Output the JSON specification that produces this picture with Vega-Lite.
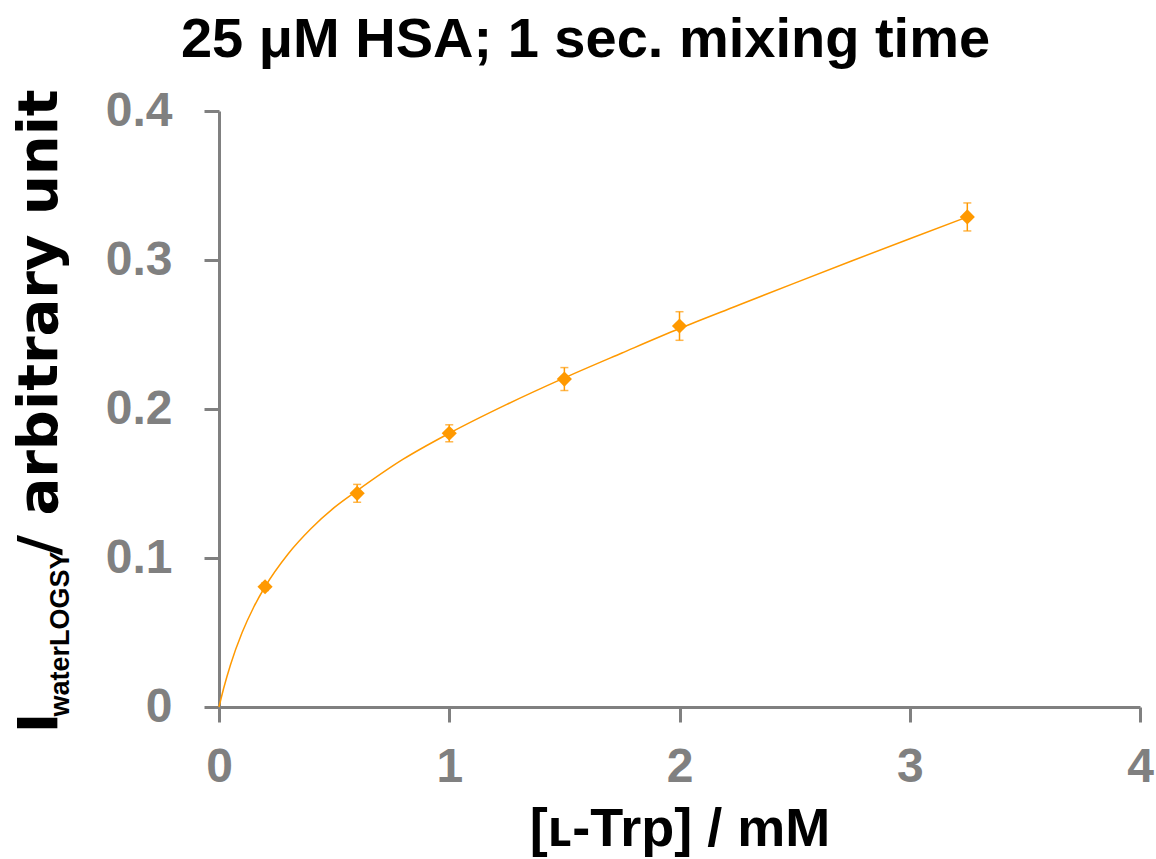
{
  "$schema": "https://vega.github.io/schema/vega-lite/v6.json",
  "width": 921,
  "height": 596,
  "autosize": "none",
  "padding": {"left": 219, "top": 111, "right": 16, "bottom": 152},
  "background": "white",
  "title": {
    "text": "25 μM HSA; 1 sec. mixing time",
    "font": "Liberation Sans",
    "fontSize": 56,
    "fontWeight": "bold",
    "color": "#000000",
    "anchor": "middle",
    "frame": "group",
    "dx": -94,
    "dy": 26,
    "baseline": "alphabetic",
    "offset": 0
  },
  "config": {"view": {"stroke": null}, "axis": {"grid": false}},
  "resolve": {"axis": {"y": "independent"}},
  "datasets": {
    "fit": [
      {"conc": 0, "signal": 0},
      {"conc": 0.01, "signal": 0.0064},
      {"conc": 0.02, "signal": 0.0124},
      {"conc": 0.05, "signal": 0.0284},
      {"conc": 0.1, "signal": 0.0498},
      {"conc": 0.15, "signal": 0.0668},
      {"conc": 0.2, "signal": 0.0807},
      {"conc": 0.3, "signal": 0.1027},
      {"conc": 0.4, "signal": 0.1198},
      {"conc": 0.5, "signal": 0.1338},
      {"conc": 0.6, "signal": 0.1452},
      {"conc": 0.8, "signal": 0.1663},
      {"conc": 1.0, "signal": 0.1837},
      {"conc": 1.25, "signal": 0.2031},
      {"conc": 1.5, "signal": 0.2209},
      {"conc": 1.75, "signal": 0.2376},
      {"conc": 2.0, "signal": 0.2540},
      {"conc": 2.25, "signal": 0.2693},
      {"conc": 2.5, "signal": 0.2845},
      {"conc": 2.75, "signal": 0.2995},
      {"conc": 3.0, "signal": 0.3143},
      {"conc": 3.25, "signal": 0.3289}
    ],
    "measured": [
      {"conc": 0.2, "signal": 0.0807, "err": 0.0025},
      {"conc": 0.6, "signal": 0.1434, "err": 0.006},
      {"conc": 1.0, "signal": 0.1837, "err": 0.0057},
      {"conc": 1.5, "signal": 0.2201, "err": 0.0077},
      {"conc": 2.0, "signal": 0.2557, "err": 0.0096},
      {"conc": 3.25, "signal": 0.3289, "err": 0.0094}
    ]
  },
  "layer": [
    {
      "data": {"name": "fit"},
      "mark": {"type": "line", "color": "#FF9900", "strokeWidth": 1.5, "interpolate": "monotone"},
      "encoding": {
        "x": {
          "field": "conc",
          "type": "quantitative",
          "scale": {"domain": [0, 4], "nice": false},
          "axis": {
            "title": "[ʟ-Trp] / mM",
            "values": [0, 1, 2, 3, 4],
            "format": "d",
            "domainColor": "#808080",
            "domainWidth": 3,
            "tickColor": "#808080",
            "tickWidth": 3,
            "tickSize": 15,
            "labelFont": "Liberation Sans",
            "labelFontSize": 48,
            "labelFontWeight": "bold",
            "labelColor": "#808080",
            "labelPadding": 21,
            "labelBaseline": "top",
            "labelFlush": false,
            "labelOverlap": false,
            "titleFont": "Liberation Sans",
            "titleFontSize": 54,
            "titleFontWeight": "bold",
            "titleColor": "#000000",
            "titleBaseline": "alphabetic",
            "titleY": 138
          }
        },
        "y": {
          "field": "signal",
          "type": "quantitative",
          "scale": {"domain": [0, 0.4], "nice": false},
          "axis": {
            "orient": "left",
            "title": "/ arbitrary unit",
            "values": [0, 0.1, 0.2, 0.3, 0.4],
            "format": "~g",
            "domainColor": "#808080",
            "domainWidth": 3,
            "tickColor": "#808080",
            "tickWidth": 3,
            "tickSize": 15,
            "labelFont": "Liberation Sans",
            "labelFontSize": 48,
            "labelFontWeight": "bold",
            "labelColor": "#808080",
            "labelPadding": 32,
            "labelFlush": false,
            "labelOverlap": false,
            "titleFont": "DejaVu Sans",
            "titleFontSize": 56,
            "titleFontWeight": "bold",
            "titleColor": "#000000",
            "titleAngle": 270,
            "titleAlign": "left",
            "titleBaseline": "alphabetic",
            "titleX": -163,
            "titleY": 444
          }
        }
      }
    },
    {
      "data": {"name": "measured"},
      "mark": {"type": "errorbar", "ticks": true, "size": 8, "thickness": 1.5, "color": "#FF9900"},
      "encoding": {
        "x": {"field": "conc", "type": "quantitative"},
        "y": {
          "field": "signal",
          "type": "quantitative",
          "axis": {
            "orient": "left",
            "title": "I",
            "domain": false,
            "ticks": false,
            "labels": false,
            "titleFont": "DejaVu Sans",
            "titleFontSize": 56,
            "titleFontWeight": "bold",
            "titleColor": "#000000",
            "titleAngle": 270,
            "titleAlign": "left",
            "titleBaseline": "alphabetic",
            "titleX": -163,
            "titleY": 622
          }
        },
        "yError": {"field": "err"}
      }
    },
    {
      "data": {"name": "measured"},
      "mark": {"type": "point", "shape": "diamond", "filled": true, "size": 230, "color": "#FF9900", "opacity": 1},
      "encoding": {
        "x": {"field": "conc", "type": "quantitative"},
        "y": {
          "field": "signal",
          "type": "quantitative",
          "axis": {
            "orient": "left",
            "title": "waterLOGSY",
            "domain": false,
            "ticks": false,
            "labels": false,
            "titleFont": "Liberation Sans Narrow, Liberation Sans",
            "titleFontSize": 27,
            "titleFontWeight": "bold",
            "titleColor": "#000000",
            "titleAngle": 270,
            "titleAlign": "left",
            "titleBaseline": "alphabetic",
            "titleX": -151,
            "titleY": 605
          }
        }
      }
    }
  ]
}
